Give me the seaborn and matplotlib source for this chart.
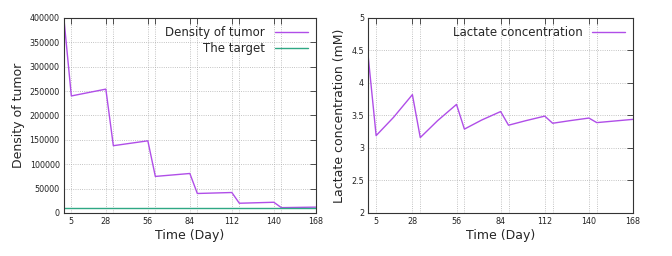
import matplotlib
matplotlib.use('Agg')
import matplotlib.pyplot as plt
import seaborn as sns
import pandas as pd

sns.set_theme(style="white")
plt.rcParams['font.family'] = ['DejaVu Sans']

# data
tumor_day = [0, 5, 28, 33, 56, 61, 84, 89, 112, 117, 140, 145, 168]
tumor_density = [400000, 240000, 254000, 138000, 148000, 75000, 81000,
                 40000, 42000, 20000, 22000, 11000, 12000]
target_day = [0, 168]
target_density = [10000, 10000]

lact_day = [0, 5, 16, 28, 33, 44, 56, 61, 72, 84, 89, 100, 112, 117, 128, 140, 145, 168]
lact_conc = [4.40, 3.19, 3.47, 3.82, 3.16, 3.42, 3.67, 3.29, 3.43, 3.56,
             3.35, 3.42, 3.49, 3.38, 3.42, 3.46, 3.39, 3.44]

xticks = [5, 28, 56, 84, 112, 140, 168]
minor_x = [33, 61, 89, 117, 145]

purple = '#b04ee8'
green = '#2fa884'

fig = plt.figure(figsize=(6.72, 2.56), dpi=100)
ax1 = fig.add_axes([0.095, 0.168, 0.375, 0.762])
ax2 = fig.add_axes([0.548, 0.168, 0.394, 0.762])

df_t = pd.DataFrame({'day': tumor_day, 'val': tumor_density})
df_g = pd.DataFrame({'day': target_day, 'val': target_density})
df_l = pd.DataFrame({'day': lact_day, 'val': lact_conc})

sns.lineplot(data=df_t, x='day', y='val', ax=ax1, color=purple, lw=1.0, label='Density of tumor')
sns.lineplot(data=df_g, x='day', y='val', ax=ax1, color=green, lw=1.0, label='The target')
sns.lineplot(data=df_l, x='day', y='val', ax=ax2, color=purple, lw=1.0, label='Lactate concentration')

ax1.set_ylim(0, 400000)
ax1.set_yticks(range(0, 400001, 50000))
ax1.set_ylabel('Density of tumor', fontsize=9, labelpad=3)
ax2.set_ylim(2, 5)
ax2.set_yticks([2, 2.5, 3, 3.5, 4, 4.5, 5])
ax2.set_yticklabels(['2', '2.5', '3', '3.5', '4', '4.5', '5'])
ax2.set_ylabel('Lactate concentration (mM)', fontsize=9, labelpad=4)

for ax in (ax1, ax2):
    ax.set_xlim(0, 168)
    ax.set_xticks(xticks)
    ax.set_xticks(minor_x, minor=True)
    ax.set_xlabel('Time (Day)', fontsize=9, labelpad=2)
    ax.tick_params(axis='both', which='both', direction='in', labelsize=5.8,
                   top=True, right=True, length=4, width=0.6, color='#333333',
                   labelcolor='#222222', pad=3)
    ax.grid(True, which='both', axis='x', ls=':', lw=0.6, color='#b0b0b0')
    ax.grid(True, which='major', axis='y', ls=':', lw=0.6, color='#b0b0b0')
    for s in ax.spines.values():
        s.set_color('#333333')
        s.set_linewidth(0.8)
    leg = ax.legend(loc='upper right', markerfirst=False, frameon=False, fontsize=8.5,
                    handlelength=2.8, borderaxespad=0.3, labelspacing=0.25)

fig.savefig('out.png', dpi=100)
